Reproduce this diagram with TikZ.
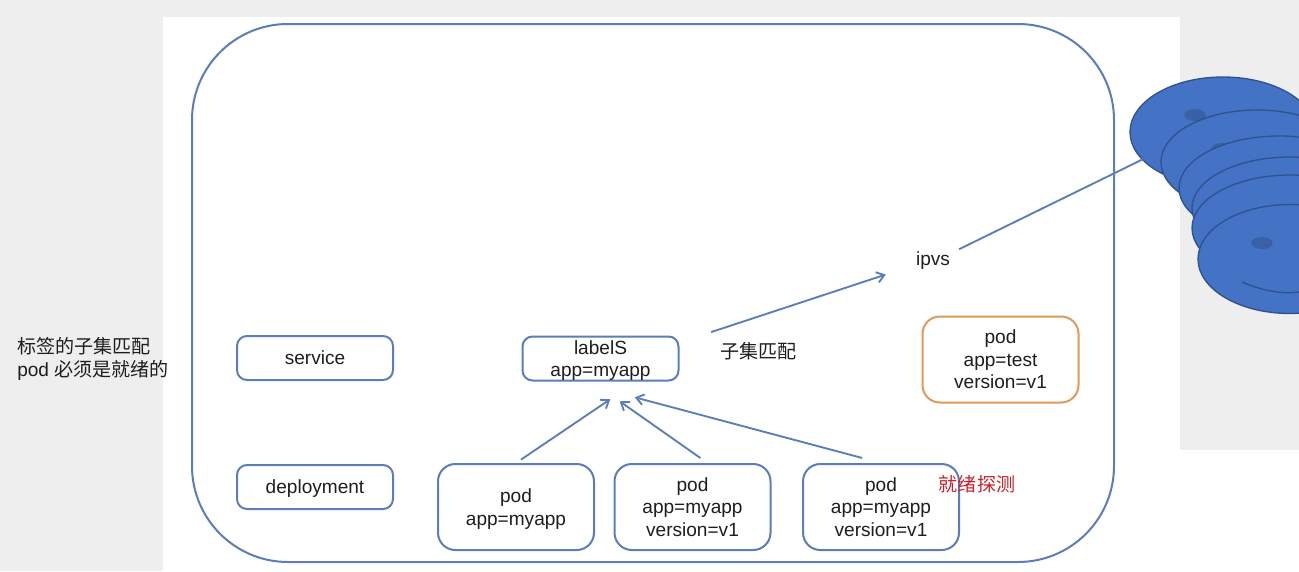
\documentclass[tikz,border=0pt]{standalone}
\usepackage{fontspec}
\setmainfont{Liberation Sans}
\newfontfamily\cjk{Noto Sans CJK SC}
\usetikzlibrary{shapes,arrows.meta}
\usetikzlibrary{calc}
\definecolor{frameblue}{HTML}{5B7DB8}
\definecolor{discblue}{HTML}{4472C4}
\definecolor{discedge}{HTML}{2F528F}
\definecolor{holeblue}{HTML}{3A60A5}
\definecolor{testorange}{HTML}{DD9A5C}
\definecolor{pagegray}{HTML}{EEEEEE}
\definecolor{probered}{HTML}{C8242B}
\definecolor{inktext}{HTML}{1E1E1E}
\begin{document}
\begin{tikzpicture}[x=0.75pt,y=-0.75pt,
	every node/.style={text=inktext,font=\fontsize{14.3}{16.9}\selectfont,align=center,inner sep=0pt,text depth=0pt},
	tag_node/.style={draw=frameblue,line width=1.5pt,rounded corners=7.5pt,minimum width=117pt,minimum height=33pt},
	pod_node/.style={draw=frameblue,line width=1.5pt,rounded corners=13pt,minimum width=117pt,minimum height=64.5pt},
	disc_node/.style={ellipse,draw=discedge,line width=1pt,fill=discblue},
	hole_node/.style={ellipse,fill=holeblue,minimum width=16pt,minimum height=9pt},
	flow/.style={-{Straight Barb[length=5.5pt,width=8pt]},frameblue,line width=1.4pt}]
	\useasboundingbox (0,0) rectangle (1299,571);
	\clip (0,0) rectangle (1299,571);
	\fill[pagegray] (0,0) rectangle (1299,571);
	\fill[white] (163,17) rectangle (1180,571);
	\fill[white] (1180,450) rectangle (1299,571);
	\node[draw=frameblue,line width=1.5pt,rounded corners=72pt,minimum width=691.5pt,minimum height=403.5pt](outer) at (653,293){};
	\node[tag_node](service) at (315,358){service};
	\node[tag_node](deployment) at (315,487){deployment};
	\node[tag_node](labels) at (600.5,358.5){labelS\\app=myapp};
	\node[pod_node](poda) at (516,507){pod\\app=myapp};
	\node[pod_node](podb) at (692.5,507){pod\\app=myapp\\version=v1};
	\node[pod_node](podc) at (881,507){pod\\app=myapp\\version=v1};
	\node[pod_node,draw=testorange](podt) at (1000.5,359.5){pod\\app=test\\version=v1};
	\node(ipvs) at (933,259){ipvs};
	\node(subset) at (758.5,350){\cjk 子集匹配};
	\node[text=probered](probe) at (977,483){\cjk 就绪探测};
	\node[align=left,anchor=west](note) at (17,357){{\cjk 标签的子集匹配}\\pod {\cjk 必须是就绪的}};
	% discs, back to front
	\node[disc_node,minimum width=139.5pt,minimum height=82.5pt](disca) at (1223,132){};
	\node[hole_node](holea) at (1195,115){};
	\node[disc_node,minimum width=144pt,minimum height=78pt](discb) at (1257,162){};
	\node[hole_node](holeb) at (1222,149){};
	\node[disc_node,minimum width=150pt,minimum height=78pt](discc) at (1279,188){};
	\node[disc_node,minimum width=147pt,minimum height=76.5pt](discd) at (1290,208){};
	\node[disc_node,minimum width=147pt,minimum height=79.5pt](disce) at (1290,228){};
	\node[hole_node](holee) at (1255,215){};
	\node[disc_node,minimum width=138pt,minimum height=81.75pt](discf) at (1290,259){};
	\node[hole_node](holef) at (1262,243){};
	\draw[discedge,line width=1pt] (1242,282) .. controls (1265,292) and (1285,294) .. (1299,292);
	% connectors
	\draw[flow,shorten <=4.5pt,shorten >=23.7pt] (poda.north) -- ($(labels.south)+(36,0)$);
	\draw[flow,shorten <=6.5pt,shorten >=25.8pt] ($(podb.north)+(15,0)$) -- ($(labels.south)+(-9,0)$);
	\draw[flow,shorten <=14.7pt,shorten >=46pt] (podc.north) -- ($(labels.south)+(-25,0)$);
	\draw[flow,shorten <=25pt,shorten >=23.7pt] ($(labels.east)+(0,-16)$) -- (ipvs);
	\draw[frameblue,line width=1.4pt,shorten <=21.8pt,shorten >=66.8pt] ($(ipvs)+(0,3)$) -- ($(disca)+(0,-12)$);
\end{tikzpicture}
\end{document}
